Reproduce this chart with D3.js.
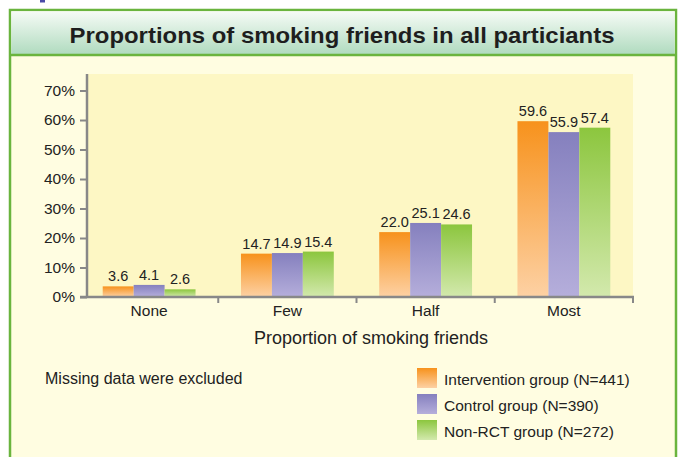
<!DOCTYPE html>
<html>
<head>
<meta charset="utf-8">
<script src="https://cdn.jsdelivr.net/npm/d3@7/dist/d3.min.js"></script>
<style>
  html, body { margin: 0; padding: 0; background: #ffffff; }
  svg { display: block; font-family: "Liberation Sans", Arial, Helvetica, sans-serif; }
</style>
</head>
<body>
<svg id="chart" width="684" height="457"></svg>
<script>
// Share of participants by how many of their friends smoke (%)
const categories = ["None", "Few", "Half", "Most"];
const seriesNames = ["Intervention group (N=441)", "Control group (N=390)", "Non-RCT group (N=272)"];
const intervention = [3.6, 14.7, 22.0, 59.6];
const control = [4.1, 14.9, 25.1, 55.9];
const nonRct = [2.6, 15.4, 24.6, 57.4];
const yTicks = [0, 10, 20, 30, 40, 50, 60, 70];

const seriesValues = [intervention, control, nonRct];
const gradStops = [
  ["#f7921c", "#fdd1a4"],
  ["#8580be", "#b5aedb"],
  ["#8cc63e", "#d3e9ad"]
];

const svg = d3.select("#chart");
const defs = svg.append("defs");

gradStops.forEach((g, i) => {
  const lg = defs.append("linearGradient")
    .attr("id", "bar" + i).attr("x1", 0).attr("y1", 0).attr("x2", 0).attr("y2", 1);
  lg.append("stop").attr("offset", "0%").attr("stop-color", g[0]);
  lg.append("stop").attr("offset", "100%").attr("stop-color", g[1]);
});
const hg = defs.append("linearGradient")
  .attr("id", "header").attr("x1", 0).attr("y1", 0).attr("x2", 0).attr("y2", 1);
hg.append("stop").attr("offset", "0%").attr("stop-color", "#f6fbf6");
hg.append("stop").attr("offset", "100%").attr("stop-color", "#b0dbbf");

// small mark peeking in at the top edge
svg.append("rect").attr("x", 40).attr("y", 0).attr("width", 5).attr("height", 2.5)
  .attr("fill", "#4a4aa8");

// panel frame
svg.append("rect").attr("x", 10).attr("y", 10).attr("width", 666).attr("height", 460)
  .attr("fill", "#fffde1").attr("stroke", "#6ab43e").attr("stroke-width", 2.5);
svg.append("rect").attr("x", 11.25).attr("y", 11.25).attr("width", 663.5).attr("height", 43)
  .attr("fill", "url(#header)");
svg.append("line").attr("x1", 10).attr("x2", 676).attr("y1", 55).attr("y2", 55)
  .attr("stroke", "#6ab43e").attr("stroke-width", 2.5);

svg.append("text").attr("x", 342).attr("y", 42.5).attr("text-anchor", "middle")
  .attr("font-size", 22.5).attr("font-weight", "bold").attr("fill", "#1e1e1e")
  .attr("textLength", 545).attr("lengthAdjust", "spacingAndGlyphs")
  .text("Proportions of smoking friends in all particiants");

// scales
const x = d3.scaleBand().domain(categories).range([80, 633]).paddingInner(0).paddingOuter(0);
const xs = d3.scaleBand().domain(d3.range(seriesNames.length)).range([0, x.bandwidth()])
  .paddingInner(0).paddingOuter(0.734);
const y = d3.scaleLinear().domain([0, 75.6]).range([297, 74]);

// plot background
svg.append("rect").attr("x", 87).attr("y", y(75.6)).attr("width", 633 - 87)
  .attr("height", y(0) - y(75.6)).attr("fill", "#fdf7c4");

// bars
const groups = svg.append("g").selectAll("g").data(categories).join("g")
  .attr("transform", d => `translate(${x(d)},0)`);
groups.selectAll("rect")
  .data((c, ci) => seriesValues.map((vals, si) => ({ si, v: vals[ci] })))
  .join("rect")
  .attr("x", d => xs(d.si))
  .attr("width", xs.bandwidth())
  .attr("y", d => y(d.v))
  .attr("height", d => y(0) - y(d.v))
  .attr("fill", d => `url(#bar${d.si})`);
groups.selectAll("text")
  .data((c, ci) => seriesValues.map((vals, si) => ({ si, v: vals[ci] })))
  .join("text")
  .attr("x", d => xs(d.si) + xs.bandwidth() / 2)
  .attr("y", d => y(d.v) - 5)
  .attr("text-anchor", "middle")
  .attr("font-size", 14.5).attr("fill", "#222")
  .text(d => d.v.toFixed(1));

// y axis
const yAxis = svg.append("g").attr("transform", "translate(87,0)")
  .call(d3.axisLeft(y).tickValues(yTicks).tickSize(7).tickPadding(5).tickFormat(d => d + "%"));
yAxis.select(".domain").remove();
yAxis.selectAll(".tick line").attr("stroke", "#888").attr("stroke-width", 2);
yAxis.selectAll(".tick text").attr("font-size", 15.5).attr("fill", "#222")
  .attr("font-family", "'Liberation Sans', Arial, sans-serif");
svg.append("line").attr("x1", 87).attr("x2", 87).attr("y1", y(75.6)).attr("y2", y(0) + 1)
  .attr("stroke", "#888").attr("stroke-width", 2.5);

// x axis
svg.append("line").attr("x1", 80).attr("x2", 634).attr("y1", y(0)).attr("y2", y(0))
  .attr("stroke", "#888").attr("stroke-width", 2.5);
const bounds = categories.slice(1).map(c => x(c)).concat([x.range()[1]]);
svg.append("g").selectAll("line").data(bounds).join("line")
  .attr("x1", d => d).attr("x2", d => d).attr("y1", y(0)).attr("y2", y(0) + 6)
  .attr("stroke", "#888").attr("stroke-width", 2);
svg.append("g").selectAll("text").data(categories).join("text")
  .attr("x", d => x(d) + x.bandwidth() / 2).attr("y", 316)
  .attr("text-anchor", "middle").attr("font-size", 15.5).attr("fill", "#222")
  .text(d => d);

svg.append("text").attr("x", 371).attr("y", 343.5).attr("text-anchor", "middle")
  .attr("font-size", 18).attr("fill", "#222").text("Proportion of smoking friends");

svg.append("text").attr("x", 45).attr("y", 384).attr("font-size", 16).attr("fill", "#222")
  .text("Missing data were excluded");

// legend
const legend = svg.append("g").selectAll("g").data(seriesNames).join("g")
  .attr("transform", (d, i) => `translate(417,${368 + i * 26})`);
legend.append("rect").attr("width", 20).attr("height", 20).attr("fill", (d, i) => `url(#bar${i})`);
legend.append("text").attr("x", 27).attr("y", 16.5).attr("font-size", 15.5).attr("fill", "#222")
  .text(d => d);
</script>
</body>
</html>
